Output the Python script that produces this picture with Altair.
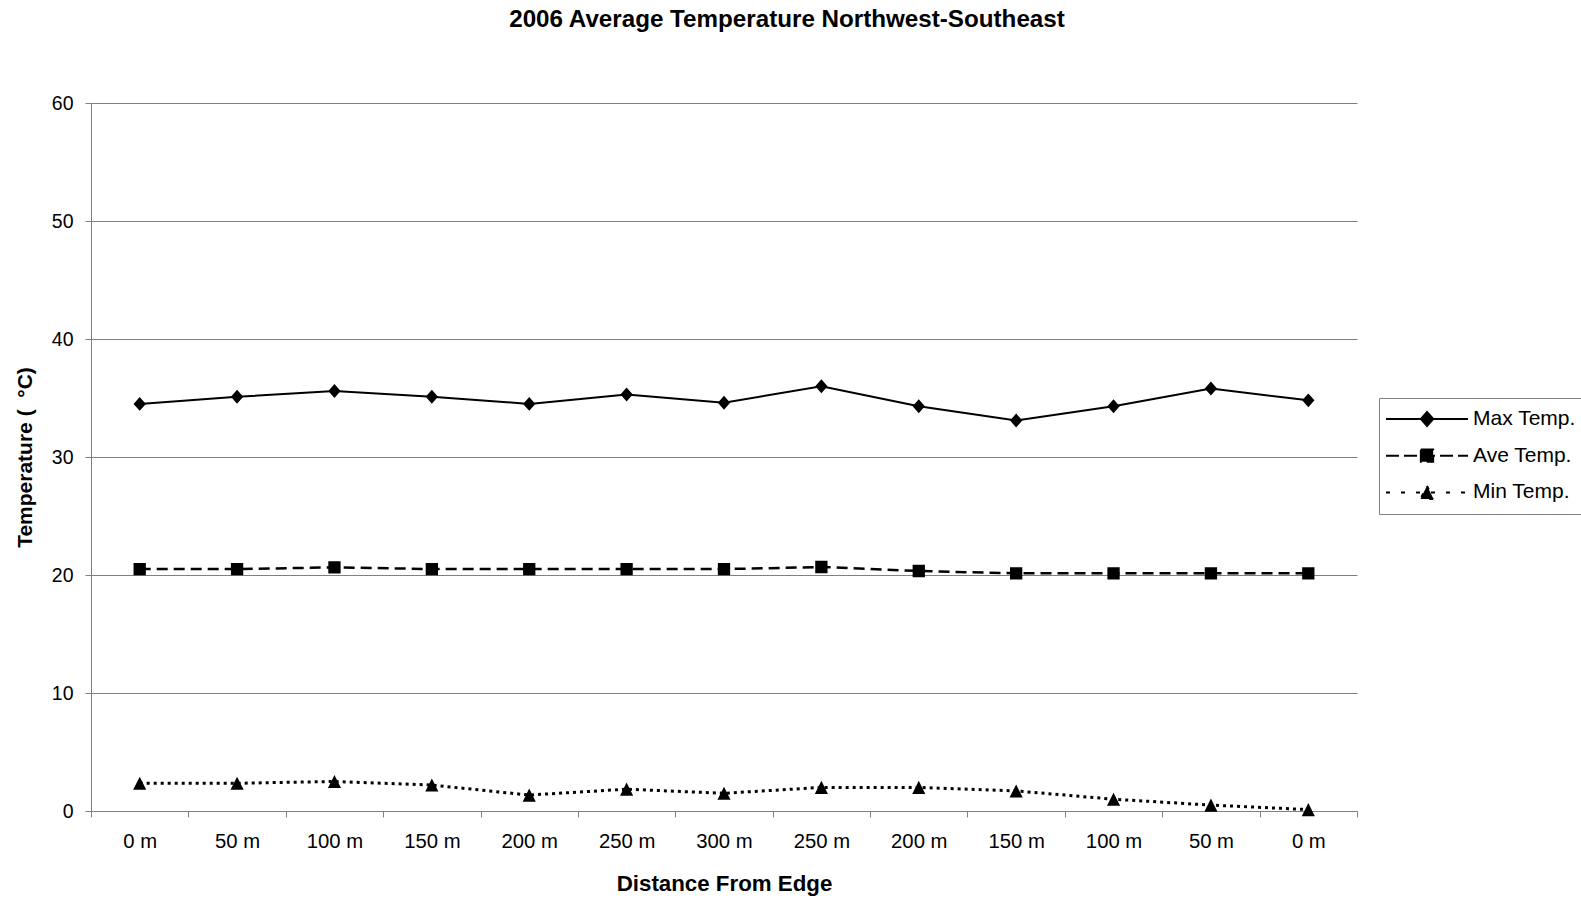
import json
import pandas as pd
import altair as alt

# Distance labels along the transect (northwest edge -> centre -> southeast edge)
distance_labels = ["0 m", "50 m", "100 m", "150 m", "200 m", "250 m", "300 m",
                   "250 m", "200 m", "150 m", "100 m", "50 m", "0 m"]

series_names = ["Max Temp.", "Ave Temp.", "Min Temp."]

max_temp = [34.5, 35.1, 35.6, 35.1, 34.5, 35.3, 34.6, 36.0, 34.3, 33.1, 34.3, 35.8, 34.8]
ave_temp = [20.5, 20.5, 20.65, 20.5, 20.5, 20.5, 20.5, 20.68, 20.34, 20.14, 20.14, 20.14, 20.14]
min_temp = [2.35, 2.35, 2.5, 2.2, 1.35, 1.85, 1.5, 2.0, 2.0, 1.7, 1.0, 0.5, 0.12]

y_ticks = [0, 10, 20, 30, 40, 50, 60]

rows = []
for name, vals in zip(series_names, [max_temp, ave_temp, min_temp]):
    for i, v in enumerate(vals):
        rows.append({"pos": i, "series": name, "temp": v})
df = pd.DataFrame(rows)

FONT = "Liberation Sans"
GRAY = "#808080"

label_expr = json.dumps(distance_labels) + "[datum.value]"

x_enc = alt.X(
    "pos:O",
    scale=alt.Scale(type="band", paddingInner=0, paddingOuter=0,
                    domain=list(range(len(distance_labels)))),
    axis=alt.Axis(
        title="Distance From Edge",
        labelExpr=label_expr,
        labelAngle=0,
        tickBand="extent",
        tickSize=6,
        labelPadding=14,
        labelFontSize=20.3,
        titleFontSize=22.3,
        titleFontWeight="bold",
        titleY=79,
        titleBaseline="alphabetic",
    ),
)

y_enc = alt.Y(
    "temp:Q",
    scale=alt.Scale(domain=[0, 60], nice=False),
    axis=alt.Axis(
        title="Temperature ( \u00a0\u00b0C)",
        values=y_ticks,
        grid=True,
        gridColor=GRAY,
        gridWidth=1,
        tickSize=6,
        labelPadding=12,
        labelFontSize=19.5,
        titleFontSize=21,
        titleFontWeight="bold",
        titleAngle=270,
        titleX=-60,
        titleY=354,
        titleAlign="center",
        titleBaseline="alphabetic",
    ),
)

base = alt.Chart(df)

# one line per series, each with its own dash style
line_styles = {
    "Max Temp.": dict(strokeWidth=2),
    "Ave Temp.": dict(strokeWidth=2.5, strokeDash=[11, 6]),
    "Min Temp.": dict(strokeWidth=3, strokeDash=[3, 4]),
}
lines = [
    base.transform_filter(alt.datum.series == name)
    .mark_line(color="black", **style)
    .encode(x=x_enc, y=y_enc)
    for name, style in line_styles.items()
]

# marker shapes; the horizontal stroke only shows in the legend swatch
marker_paths = [
    "M-1,0H1M0,-0.17L0.15,0L0,0.17L-0.15,0Z",
    "M-1,0H1M-0.15,-0.15H0.15V0.15H-0.15Z",
    "M-1,0H1M0,-0.16L0.16,0.16H-0.16Z",
]
legend_dashes = [[1, 0], [13, 5], [4, 11]]

legend = alt.Legend(
    title="\u00a0\u00a0",
    titleOrient="right",
    titleFontSize=20,
    titlePadding=4,
    orient="none",
    legendX=1288,
    legendY=295,
    padding=6,
    strokeColor=GRAY,
    fillColor="white",
    symbolSize=6724,
    symbolStrokeWidth=2,
    symbolOpacity=1,
    clipHeight=30,
    rowPadding=6.7,
    labelOffset=4,
    labelFontSize=21,
    labelFont=FONT,
    labelColor="black",
)

points = base.mark_point(
    filled=False, fill="black", stroke="black", strokeWidth=0, opacity=1, size=6724
).encode(
    x=x_enc,
    y=y_enc,
    shape=alt.Shape("series:N", scale=alt.Scale(domain=series_names, range=marker_paths),
                    legend=legend),
    strokeDash=alt.StrokeDash("series:N", scale=alt.Scale(domain=series_names, range=legend_dashes),
                              legend=legend),
)

chart = (
    alt.layer(*lines, points)
    .properties(
        width=1266,
        height=708,
        autosize=alt.AutoSizeParams(type="none"),
        padding={"left": 91, "top": 103, "right": 224, "bottom": 87},
        title=alt.TitleParams(
            "2006 Average Temperature Northwest-Southeast",
            font=FONT,
            fontSize=24.2,
            fontWeight="bold",
            color="black",
            anchor="middle",
            dx=63,
            offset=42,
            baseline="alphabetic",
        ),
    )
    .configure_view(stroke=None)
    .configure_axis(
        labelFont=FONT,
        titleFont=FONT,
        labelColor="black",
        titleColor="black",
        domainColor=GRAY,
        tickColor=GRAY,
        domainWidth=1,
        tickWidth=1,
    )
    .configure_axisX(grid=False)
)

chart.save("out.html", embed_options={"renderer": "svg", "actions": False})
